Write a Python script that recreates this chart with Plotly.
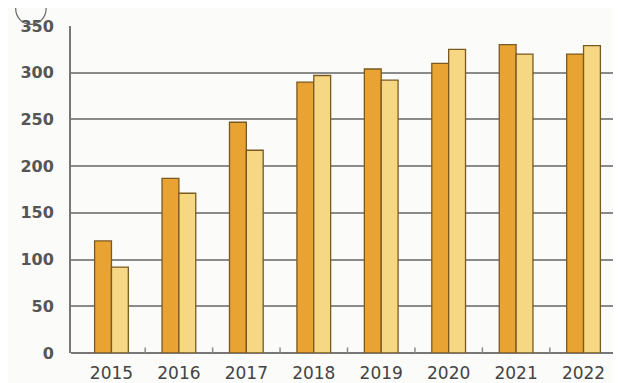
import plotly.graph_objects as go

years = ["2015", "2016", "2017", "2018", "2019", "2020", "2021", "2022"]
series_dark = [120, 187, 247, 290, 304, 310, 330, 320]
series_light = [92, 171, 217, 297, 292, 325, 320, 329]
y_ticks = [0, 50, 100, 150, 200, 250, 300, 350]

outline = dict(color="#7a5a22", width=1.3)

fig = go.Figure()
fig.add_trace(go.Bar(x=years, y=series_dark, name="A",
                     marker=dict(color="#E9A332", line=outline)))
fig.add_trace(go.Bar(x=years, y=series_light, name="B",
                     marker=dict(color="#F6D784", line=outline)))

fig.update_layout(
    width=621, height=383,
    margin=dict(l=63, r=5, t=18, b=38),
    paper_bgcolor="#fbfbf9",
    plot_bgcolor="#fbfbf9",
    showlegend=False,
    barmode="group",
    bargap=0.5,
    bargroupgap=0,
    font=dict(family="DejaVu Sans", color="#4a4a4a"),
)

fig.update_xaxes(
    range=[-0.6, 7.6],
    tickmode="array", tickvals=list(range(len(years))), ticktext=years,
    tickfont=dict(size=17, color="#444"),
    ticks="", showline=False, showgrid=False,
    ticklabelstandoff=8,
)
fig.update_yaxes(
    range=[0, 350],
    tickvals=y_ticks,
    tickfont=dict(size=16, color="#555", family="DejaVu Sans, sans-serif", weight="bold"),
    showline=True, linecolor="#777", linewidth=2,
    showgrid=True, gridcolor="#8a8a8a", gridwidth=1.6,
    zeroline=True, zerolinecolor="#777", zerolinewidth=2,
    ticks="", ticklabelstandoff=12,
)

# small tick marks between the groups on the baseline
for i in range(len(years) - 1):
    fig.add_shape(type="line", xref="x", yref="y",
                  x0=i + 0.5, x1=i + 0.5, y0=0, y1=6,
                  line=dict(color="#8a8a8a", width=1.5))

# circle marker partly cut off at the top left
fig.add_shape(type="circle", xref="paper", yref="paper",
              x0=-0.10, x1=-0.045, y0=1.005, y1=1.1,
              line=dict(color="#666", width=1.2))

fig.write_html("out.html")
